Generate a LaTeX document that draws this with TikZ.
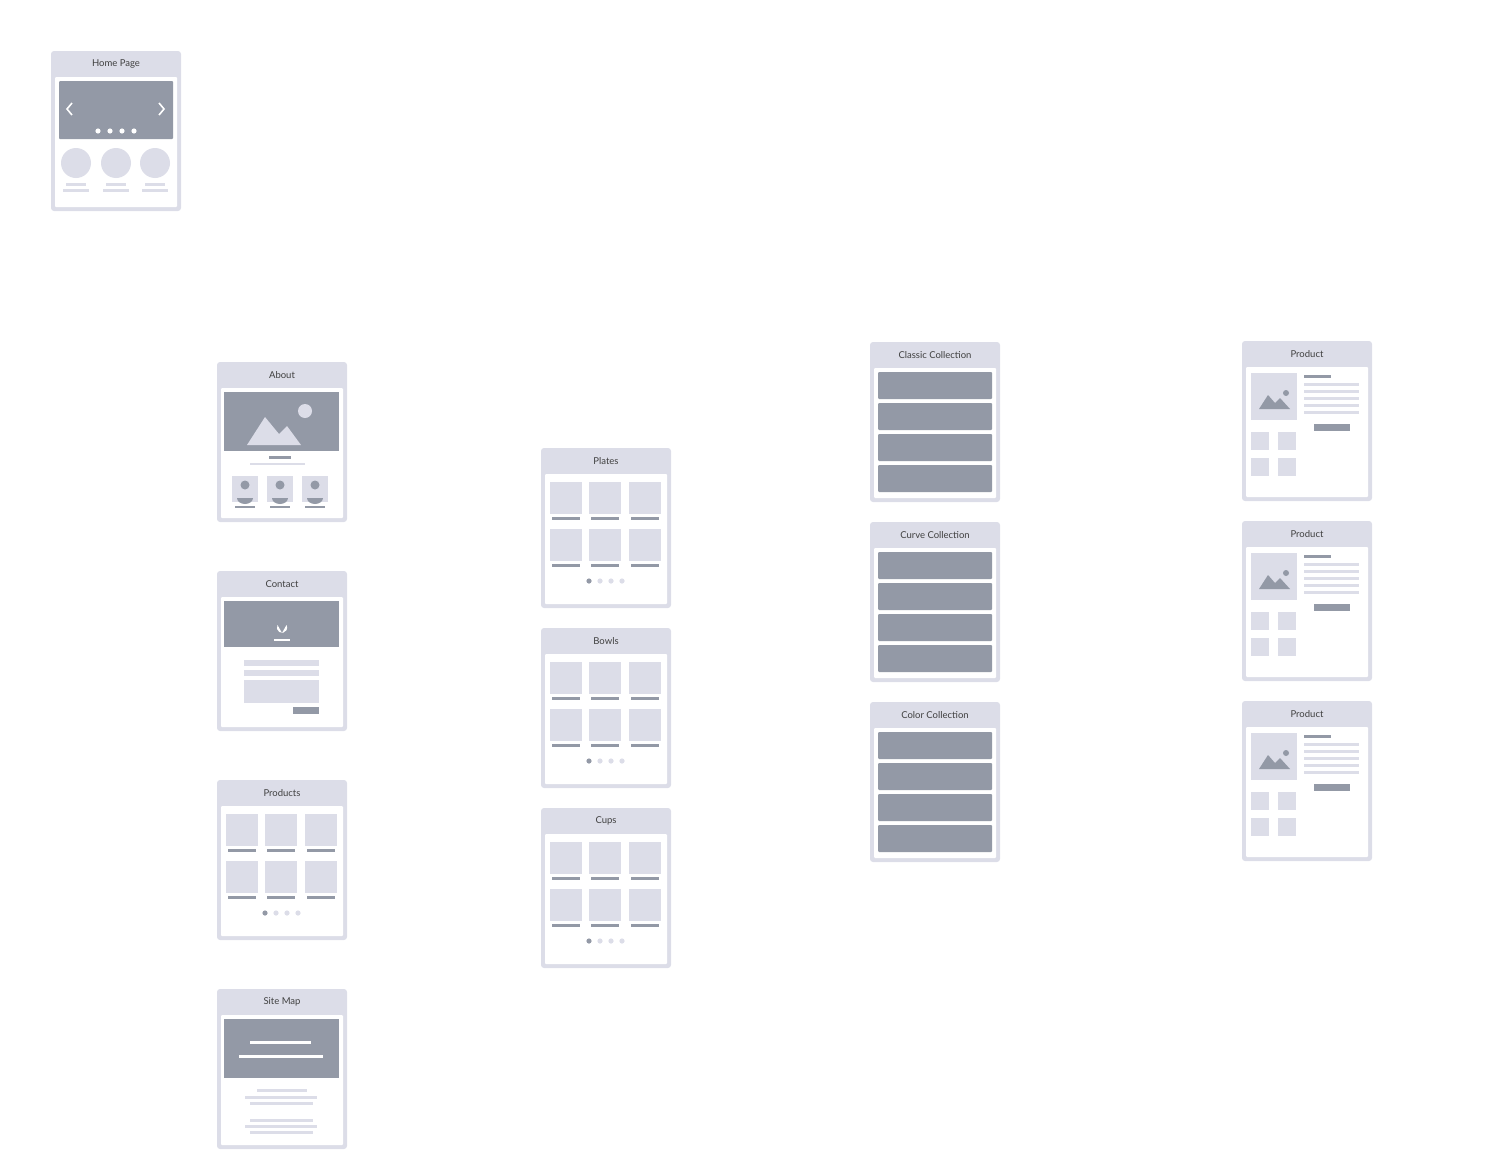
\documentclass[tikz,border=0pt]{standalone}
\usepackage{fontspec}
\setmainfont{Lato}
\definecolor{lt}{HTML}{DCDDE8}
\definecolor{dk}{HTML}{9399A6}
\begin{document}
\begin{tikzpicture}[x=1pt,y=-1pt,
  frame/.style={fill=lt,rounded corners=3pt},
  inner/.style={fill=white,rounded corners=1pt},
  dkf/.style={fill=dk},
  ltf/.style={fill=lt},
  ttl/.style={font=\fontsize{9.5}{10}\selectfont,text=black!75}]
\useasboundingbox (0,0) rectangle (1510,1175);
\newcommand{\card}[4]{%
 \begin{scope}[shift={(#1,#2)}]
 \fill[frame] (0,0) rectangle (130,160);
 \fill[inner] (4,26) rectangle (126,156);
 \node[ttl] (#4) at (65,13) {#3};
 \end{scope}}
\newcommand{\grid}[2]{%
 \begin{scope}[shift={(#1,#2)}]
 \foreach \x in {9,48,88}{
  \fill[ltf] (\x,34) rectangle ++(32,32);
  \fill[ltf] (\x,81) rectangle ++(32,32);
  \fill[dkf] (\x+2,69) rectangle ++(28,2.5);
  \fill[dkf] (\x+2,116) rectangle ++(28,2.5);}
 \fill[dk] (48,133) circle (2.6);
 \foreach \x in {59,70,81} \fill[lt] (\x,133) circle (2.6);
 \end{scope}}
\newcommand{\coll}[2]{%
 \begin{scope}[shift={(#1,#2)}]
 \foreach \y in {30,61,92,123} \fill[dkf,rounded corners=1pt] (8,\y) rectangle (122,\y+27);
 \end{scope}}
\newcommand{\prodcard}[2]{%
 \begin{scope}[shift={(#1,#2)}]
 \fill[ltf] (9,32) rectangle (55,79);
 \fill[dk] (17,68) -- (26,54) -- (33,62) -- (38,57) -- (48,68) -- cycle;
 \fill[dk] (44,52) circle (3);
 \fill[dkf] (62,34) rectangle (89,36.5);
 \foreach \y in {42,49,56,63,70} \fill[ltf] (62,\y) rectangle (117,\y+2.5);
 \fill[dkf] (72,83) rectangle (108,90);
 \foreach \a/\b in {9/91,36/91,9/117,36/117} \fill[ltf] (\a,\b) rectangle ++(18,18);
 \end{scope}}
% Home
\card{51}{51}{Home Page}{home}
\begin{scope}[shift={(51,51)}]
 \fill[dkf,rounded corners=1pt] (8,30) rectangle (122,88);
 \draw[white,line width=1.6pt] (21,52) -- (16,58) -- (21,64);
 \draw[white,line width=1.6pt] (108,52) -- (113,58) -- (108,64);
 \foreach \x in {47,59,71,83} \fill[white] (\x,80) circle (2.6);
 \foreach \x in {25,65,104}{\fill[lt] (\x,112) circle (15);
  \fill[ltf] (\x-10,131.5) rectangle ++(20,3);
  \fill[ltf] (\x-13,137.5) rectangle ++(26,3);}
\end{scope}
% About
\card{217}{362}{About}{about}
\begin{scope}[shift={(217,362)}]
 \fill[dkf] (7,30) rectangle (122,89);
 \fill[lt] (30,83) -- (48,55) -- (62,72) -- (70,64) -- (84,83) -- cycle;
 \fill[lt] (88,49) circle (7);
 \fill[dkf] (52,94) rectangle (74,96.5);
 \fill[ltf] (33,101) rectangle (88,103);
 \foreach \x in {15,50,85}{\fill[ltf] (\x,114) rectangle ++(26,26);
  \fill[dk] (\x+13,123) circle (4.5);
  \fill[dk] (\x+5,136) arc (180:0:8 and 6) -- cycle;
  \fill[dkf] (\x+3,143.5) rectangle ++(20,2.5);}
\end{scope}
% Contact
\card{217}{571}{Contact}{contact}
\begin{scope}[shift={(217,571)}]
 \fill[dkf] (7,30) rectangle (122,76);
 \fill[white] (65,62) -- (60.5,54) arc (210:-30:5.2) -- cycle;
 \fill[dk] (65,51) circle (2);
 \fill[white] (57,67.5) rectangle (73,69.5);
 \fill[ltf] (27,89) rectangle (102,95);
 \fill[ltf] (27,99) rectangle (102,105);
 \fill[ltf] (27,109) rectangle (102,132);
 \fill[dkf] (76,136) rectangle (102,143);
\end{scope}
% Products
\card{217}{780}{Products}{products}
\grid{217}{780}
% Site map
\card{217}{989}{Site Map}{sitemap}
\begin{scope}[shift={(217,989)}]
 \fill[dkf] (7,30) rectangle (122,89);
 \fill[white] (33,51.5) rectangle (94,54.5);
 \fill[white] (22,65.5) rectangle (106,68.5);
 \foreach \a/\b/\y in {40/90/100,28/100/107,33/96/113,33/96/130,28/100/136,33/96/142} \fill[ltf] (\a,\y) rectangle (\b,\y+2.5);
\end{scope}
% Middle
\card{541}{448}{Plates}{plates}\grid{541}{448}
\card{541}{628}{Bowls}{bowls}\grid{541}{628}
\card{541}{808}{Cups}{cups}\grid{541}{808}
% Collections
\card{870}{342}{Classic Collection}{classic}\coll{870}{342}
\card{870}{522}{Curve Collection}{curve}\coll{870}{522}
\card{870}{702}{Color Collection}{color}\coll{870}{702}
% Products
\card{1242}{341}{Product}{p1}\prodcard{1242}{341}
\card{1242}{521}{Product}{p2}\prodcard{1242}{521}
\card{1242}{701}{Product}{p3}\prodcard{1242}{701}
\end{tikzpicture}
\end{document}
